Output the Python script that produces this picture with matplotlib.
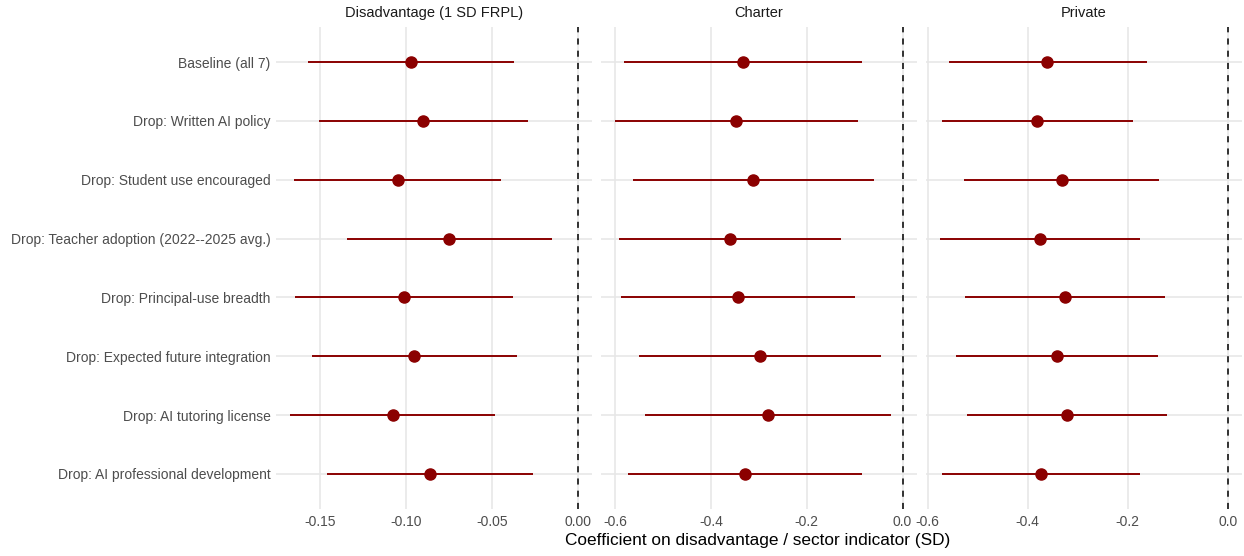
import numpy as np
import matplotlib
matplotlib.use("Agg")
import matplotlib.pyplot as plt

plt.rcParams['font.family'] = ['Liberation Sans', 'DejaVu Sans']
plt.rcParams['axes.unicode_minus'] = False

# Данные: спецификации (сверху вниз) и оценки по трём панелям
specs = [
    "Baseline (all 7)",
    "Drop: Written AI policy",
    "Drop: Student use encouraged",
    "Drop: Teacher adoption (2022--2025 avg.)",
    "Drop: Principal-use breadth",
    "Drop: Expected future integration",
    "Drop: AI tutoring license",
    "Drop: AI professional development",
]
panels = ["Disadvantage (1 SD FRPL)", "Charter", "Private"]

disadv_est = [-0.0969, -0.0901, -0.1049, -0.0747, -0.1012, -0.0951, -0.1078, -0.0858]
disadv_lo = [-0.1568, -0.1508, -0.1652, -0.1346, -0.1644, -0.1547, -0.1673, -0.1459]
disadv_hi = [-0.0370, -0.0290, -0.0446, -0.0148, -0.0377, -0.0356, -0.0481, -0.0259]

charter_est = [-0.334, -0.347, -0.3115, -0.3603, -0.3429, -0.2983, -0.2815, -0.3282]
charter_lo = [-0.5812, -0.600, -0.5624, -0.5916, -0.5875, -0.5505, -0.5380, -0.5735]
charter_hi = [-0.0857, -0.0941, -0.0599, -0.1282, -0.0990, -0.0446, -0.0244, -0.0843]

private_est = [-0.3607, -0.3807, -0.3313, -0.3753, -0.326, -0.3407, -0.322, -0.374]
private_lo = [-0.558, -0.572, -0.5273, -0.5747, -0.526, -0.5427, -0.522, -0.572]
private_hi = [-0.162, -0.1887, -0.1367, -0.1753, -0.126, -0.1387, -0.1213, -0.1753]

ticks = [
    [-0.15, -0.10, -0.05, 0.00],
    [-0.6, -0.4, -0.2, 0.0],
    [-0.6, -0.4, -0.2, 0.0],
]
tick_fmt = ["{:.2f}", "{:.1f}", "{:.1f}"]

data = [
    (disadv_est, disadv_lo, disadv_hi),
    (charter_est, charter_lo, charter_hi),
    (private_est, private_lo, private_hi),
]

fig = plt.figure(figsize=(12.44, 5.56), dpi=100)

lefts = [0.2219, 0.4831, 0.7444]
width = 0.254
bottom, top = 0.084, 0.952

n = len(specs)
y = np.arange(n)[::-1]  # первая спецификация сверху

for i, (est, lo, hi) in enumerate(data):
    ax = fig.add_axes([lefts[i], bottom, width, top - bottom])
    for s in ax.spines.values():
        s.set_visible(False)
    ax.hlines(y, lo, hi, color='#8B0000', lw=1.4, zorder=3)
    ax.plot(est, y, 'o', color='#8B0000', ms=8, zorder=4)
    ax.axvline(0, color='black', lw=1.1, ls=(0, (4, 4)), zorder=2)

    # пределы как в ggplot: диапазон данных (с 0) плюс 5%
    xmin = min(min(lo), 0)
    xmax = max(max(hi), 0)
    pad = (xmax - xmin) * 0.05
    ax.set_xlim(xmin - pad, xmax + pad)
    ax.set_ylim(-0.6, n - 1 + 0.6)

    ax.set_xticks(ticks[i])
    ax.set_xticklabels([tick_fmt[i].format(t) for t in ticks[i]])
    ax.set_yticks(y)
    if i == 0:
        ax.set_yticklabels(specs)
    else:
        ax.set_yticklabels([])
    ax.tick_params(length=0, labelsize=10, labelcolor='#4D4D4D', pad=4)
    ax.grid(True, color='#E6E6E6', lw=1.1, zorder=0)
    ax.set_axisbelow(True)
    ax.set_title(panels[i], fontsize=10.5, color='#1A1A1A', pad=7)

fig.text(0.609, 0.015, "Coefficient on disadvantage / sector indicator (SD)",
         ha='center', va='bottom', fontsize=12.4, color='black')

fig.savefig("out.png", dpi=100)
